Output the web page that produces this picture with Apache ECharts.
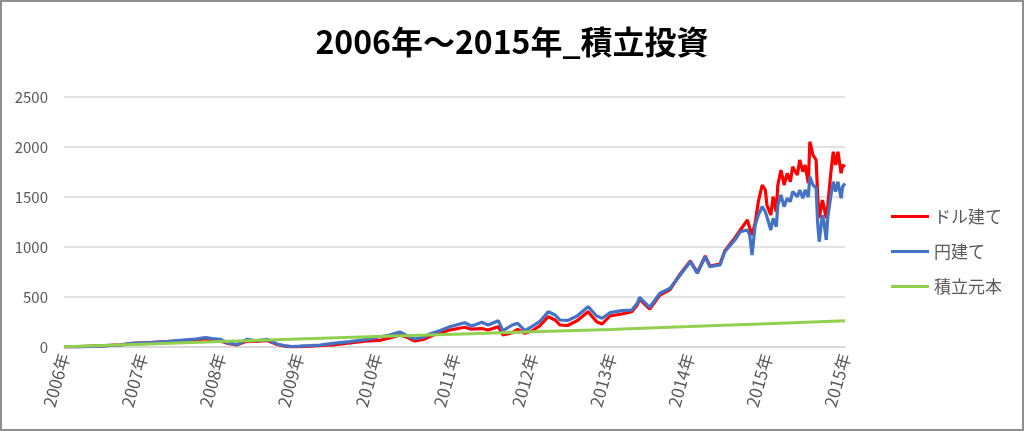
<!DOCTYPE html>
<html>
<head>
<meta charset="utf-8">
<script src="https://cdn.jsdelivr.net/npm/echarts@6/dist/echarts.min.js"></script>
<style>
  html, body { margin: 0; padding: 0; background: #fff; }
  #main { width: 1024px; height: 431px; }
  #frame {
    position: absolute; left: 0; top: 0; width: 1024px; height: 431px;
    box-sizing: border-box; border: 2px solid #8f8f8f; pointer-events: none;
  }
</style>
</head>
<body>
<div id="main"></div>
<div id="frame"></div>
<script>
// 時点（年、小数）
const dates = [
  2006.00, 2006.20, 2006.46, 2006.72, 2006.88, 2007.10, 2007.32, 2007.52, 2007.68, 2007.81,
  2007.90, 2008.00, 2008.09, 2008.22, 2008.34, 2008.47, 2008.60, 2008.73, 2008.83, 2008.92,
  2009.02, 2009.15, 2009.28, 2009.44, 2009.66, 2009.88, 2010.05, 2010.17, 2010.30, 2010.40,
  2010.49, 2010.60, 2010.70, 2010.81, 2010.94, 2011.13, 2011.22, 2011.35, 2011.43, 2011.56,
  2011.62, 2011.74, 2011.81, 2011.90, 2011.99, 2012.09, 2012.20, 2012.29, 2012.35, 2012.45,
  2012.57, 2012.71, 2012.82, 2012.89, 2012.99, 2013.14, 2013.27, 2013.34, 2013.37, 2013.50,
  2013.63, 2013.76, 2013.89, 2014.02, 2014.11, 2014.21, 2014.27, 2014.40, 2014.46, 2014.59,
  2014.66, 2014.75, 2014.78, 2014.81, 2014.85, 2014.89, 2014.94, 2014.98, 2015.00, 2015.05,
  2015.08, 2015.12, 2015.14, 2015.18, 2015.22, 2015.26, 2015.30, 2015.33, 2015.39, 2015.42,
  2015.46, 2015.49, 2015.53, 2015.55, 2015.59, 2015.63, 2015.65, 2015.67, 2015.71, 2015.73,
  2015.76, 2015.78, 2015.82, 2015.85, 2015.88, 2015.91, 2015.95, 2015.97, 2016.00
]
// ドル建て
const dollarValues = [
  0, 3, 12, 22, 37, 45, 53, 65, 70, 80,
  72, 60, 37, 22, 60, 55, 65, 25, 8, 2,
  4, 8, 15, 20, 40, 60, 67, 90, 120, 95,
  60, 75, 110, 143, 170, 197, 178, 185, 170, 203,
  120, 143, 177, 137, 160, 210, 303, 270, 220, 215,
  263, 353, 253, 230, 310, 330, 353, 420, 480, 380,
  520, 575, 730, 860, 745, 910, 810, 830, 960, 1090,
  1170, 1270, 1190, 1120, 1240, 1453, 1620, 1570, 1420, 1320,
  1503, 1353, 1620, 1770, 1620, 1737, 1653, 1803, 1720, 1870,
  1753, 1820, 1637, 2053, 1920, 1870, 1520, 1290, 1470, 1403,
  1287, 1420, 1753, 1953, 1820, 1953, 1737, 1820, 1803
]
// 円建て
const yenValues = [
  0, 2, 8, 20, 37, 45, 55, 70, 80, 93,
  85, 77, 42, 25, 77, 62, 77, 30, 12, 5,
  8, 13, 20, 37, 53, 77, 103, 120, 150, 110,
  80, 97, 135, 163, 203, 243, 210, 247, 220, 263,
  163, 220, 237, 163, 203, 253, 353, 320, 270, 265,
  310, 403, 310, 287, 343, 363, 370, 437, 497, 397,
  537, 587, 720, 853, 737, 903, 803, 820, 953, 1070,
  1153, 1170, 1120, 920, 1220, 1320, 1403, 1353, 1303, 1170,
  1287, 1203, 1420, 1520, 1403, 1487, 1453, 1553, 1503, 1570,
  1487, 1570, 1500, 1703, 1620, 1590, 1240, 1053, 1320, 1253,
  1070, 1300, 1520, 1653, 1553, 1653, 1487, 1603, 1637
]
// 積立元本（年ごと）
const principalDates = [2006, 2007, 2008, 2009, 2010, 2011, 2012, 2013, 2014, 2015, 2016]
const principalValues = [2, 28, 54, 80, 105, 128, 152, 176, 204, 233, 262]
// 横軸の目盛りラベル
const xTickLabels = ['2006年', '2007年', '2008年', '2009年', '2010年', '2011年',
  '2012年', '2013年', '2014年', '2015年', '2015年']

const font = '"Noto Sans CJK JP", "Noto Sans", sans-serif'
const pair = (xs, ys) => xs.map((x, i) => [x, ys[i]])

const chart = echarts.init(document.getElementById('main'))
chart.setOption({
  animation: false,
  textStyle: { fontFamily: font },
  title: {
    text: '2006年～2015年_積立投資',
    left: 'center',
    top: 21,
    textStyle: { fontFamily: font, fontSize: 32, fontWeight: 'bold', color: '#000' }
  },
  grid: { left: 64, right: 179, top: 97, bottom: 84 },
  legend: {
    orient: 'vertical',
    left: 886,
    top: 203,
    icon: 'rect',
    itemWidth: 38,
    itemHeight: 3,
    itemGap: 18,
    textStyle: { fontFamily: font, fontSize: 17, color: '#595959' },
    data: ['ドル建て', '円建て', '積立元本']
  },
  xAxis: {
    type: 'value',
    min: 2006,
    max: 2016,
    interval: 1,
    splitLine: { show: false },
    axisLine: { show: true, lineStyle: { color: '#d9d9d9', width: 2 } },
    axisTick: { show: false },
    axisLabel: {
      rotate: 74,
      margin: 7,
      fontSize: 17,
      color: '#595959',
      fontFamily: font,
      formatter: v => xTickLabels[Math.round(v - 2006)]
    }
  },
  yAxis: {
    type: 'value',
    min: 0,
    max: 2500,
    interval: 500,
    axisLine: { show: false },
    axisTick: { show: false },
    splitLine: { lineStyle: { color: '#d9d9d9', width: 1.5 } },
    axisLabel: { fontSize: 15, color: '#595959', margin: 16, fontFamily: font, formatter: v => String(v) }
  },
  series: [
    {
      name: 'ドル建て',
      type: 'line',
      symbol: 'none',
      data: pair(dates, dollarValues),
      lineStyle: { color: '#ff0000', width: 3.2 },
      itemStyle: { color: '#ff0000' }
    },
    {
      name: '円建て',
      type: 'line',
      symbol: 'none',
      data: pair(dates, yenValues),
      lineStyle: { color: '#4472c4', width: 3.2 },
      itemStyle: { color: '#4472c4' }
    },
    {
      name: '積立元本',
      type: 'line',
      symbol: 'none',
      data: pair(principalDates, principalValues),
      lineStyle: { color: '#92d050', width: 3 },
      itemStyle: { color: '#92d050' }
    }
  ]
})
</script>
</body>
</html>
